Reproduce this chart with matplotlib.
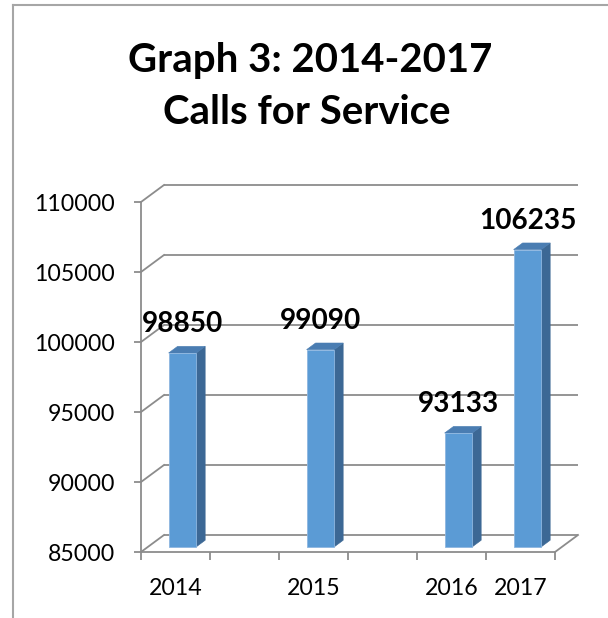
import matplotlib
matplotlib.use("Agg")
import matplotlib.pyplot as plt
from matplotlib.patches import Polygon
from matplotlib.lines import Line2D
from matplotlib.ticker import FixedLocator, NullFormatter

# --- data -------------------------------------------------------------
years = ["2014", "2015", "2016", "2017"]
calls = [98850, 99090, 93133, 106235]
slots = [0, 2, 4, 5]            # slot index of each year on a 6-slot date axis
n_slots = 6
y_min, y_max, y_step = 85000, 110000, 5000
title_lines = ["Graph 3: 2014-2017", "Calls for Service"]

# --- style ------------------------------------------------------------
FONT = "Lato"
GRID = "#8C8C8C"
FRONT = "#5B9BD5"
SIDE = "#3C6895"
TOP = "#4A7DB2"
EDGE = "#8DB6E0"

# 3-D projection: shift of the back wall in data units (x slots, y values)
DX, DY = 1 / 3, 1215
BAR_W = 0.40            # bar width, in slots
D_FRONT = 0.30          # depth of bar front face (0=front plane, 1=back wall)
D_BAR = 0.39            # bar depth

W, H, DPI = 608, 618, 100
fig = plt.figure(figsize=(W / DPI, H / DPI), dpi=DPI)

# axes placed so 1 slot = 69 px and 1000 calls = 14 px
px_slot, px_val = 69.0, 0.014
x_lo, x_hi = -0.6, 6.7
v_lo, v_hi = 84000, 112500
left_px = 141 - (0 - x_lo) * px_slot
bottom_px = H - (552 + (y_min - v_lo) * px_val)
ax = fig.add_axes([left_px / W, bottom_px / H,
                   (x_hi - x_lo) * px_slot / W, (v_hi - v_lo) * px_val / H])
ax.set_xlim(x_lo, x_hi)
ax.set_ylim(v_lo, v_hi)
ax.patch.set_alpha(0)
for s in ("top", "right"):
    ax.spines[s].set_visible(False)

# front axes lines
ax.spines["left"].set_position(("data", 0))
ax.spines["left"].set_bounds(y_min, y_max)
ax.spines["bottom"].set_position(("data", y_min))
ax.spines["bottom"].set_bounds(0, n_slots)
for s in ("left", "bottom"):
    ax.spines[s].set_color(GRID)
    ax.spines[s].set_linewidth(1.3)

yt = list(range(y_min, y_max + 1, y_step))
ax.set_yticks(yt)
ax.set_yticklabels([str(v) for v in yt], fontfamily=FONT, fontsize=16.7)
ax.tick_params(axis="y", length=5, width=1.3, color=GRID, pad=13.5)

ax.xaxis.set_major_locator(FixedLocator(range(n_slots + 1)))
ax.xaxis.set_major_formatter(NullFormatter())
ax.xaxis.set_minor_locator(FixedLocator([s + 0.5 for s in slots]))
ax.set_xticklabels(years, minor=True, fontfamily=FONT, fontsize=16.7)
ax.tick_params(axis="x", which="major", length=5.8, width=1.3, color=GRID)
ax.tick_params(axis="x", which="minor", length=0, pad=18.5)

# walls: back-wall gridlines, side-wall diagonals and the floor
for v in yt:
    ax.plot([DX, n_slots + DX], [v + DY, v + DY], color=GRID, lw=1.3,
            solid_capstyle="butt", zorder=1, clip_on=False)
    ax.plot([0, DX], [v, v + DY], color=GRID, lw=1.3, zorder=1, clip_on=False)
ax.plot([n_slots, n_slots + DX], [y_min, y_min + DY], color=GRID, lw=1.3,
        zorder=1, clip_on=False)

# 3-D columns
dx_b, dy_b = D_BAR * DX, D_BAR * DY
for s, v in zip(slots, calls):
    c = s + 0.5 + D_FRONT * DX
    xl, xr = c - BAR_W / 2, c + BAR_W / 2
    b = y_min + D_FRONT * DY
    t = v + D_FRONT * DY
    front = Polygon([(xl, b), (xr, b), (xr, t), (xl, t)], closed=True,
                    facecolor=FRONT, edgecolor=EDGE, lw=0.6, zorder=3)
    side = Polygon([(xr, b), (xr + dx_b, b + dy_b), (xr + dx_b, t + dy_b), (xr, t)],
                   closed=True, facecolor=SIDE, edgecolor=SIDE, lw=0.4, zorder=3)
    top = Polygon([(xl, t), (xr, t), (xr + dx_b, t + dy_b), (xl + dx_b, t + dy_b)],
                  closed=True, facecolor=TOP, edgecolor=TOP, lw=0.4, zorder=3)
    for p in (side, top, front):
        ax.add_patch(p)
    ax.annotate(str(v), xy=(c, t), xytext=(0, 15), textcoords="offset points",
                ha="center", va="baseline", fontfamily=FONT, fontweight="bold",
                fontsize=20.2, color="black", zorder=4)

# title
fig.text(310 / W, 1 - 72 / H, title_lines[0], ha="center", va="baseline",
         fontfamily=FONT, fontweight="bold", fontsize=28.9)
fig.text(307 / W, 1 - 124 / H, title_lines[1], ha="center", va="baseline",
         fontfamily=FONT, fontweight="bold", fontsize=28.9)

# chart-area border (left and top edges)
fig.add_artist(Line2D([13 / W, 13 / W], [0, 1 - 5 / H], color="#A6A6A6", lw=1.5))
fig.add_artist(Line2D([13 / W, 1], [1 - 5 / H, 1 - 5 / H], color="#A6A6A6", lw=1.5))

fig.savefig("out.png", dpi=DPI)
